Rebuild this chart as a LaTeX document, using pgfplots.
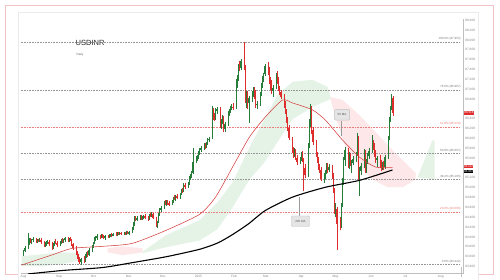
\documentclass[border=0pt]{standalone}
\usepackage{fontspec}
\setmainfont{Liberation Sans}
\usepackage{pgfplots}
\pgfplotsset{compat=1.18}
\usepackage{pgfplotstable}
\definecolor{upc}{RGB}{38,125,58}
\definecolor{dnc}{RGB}{222,45,45}
\definecolor{ma50}{RGB}{214,64,64}
\definecolor{cloudG}{RGB}{229,243,231}
\definecolor{cloudR}{RGB}{253,231,232}
\definecolor{framepink}{RGB}{242,196,200}
\definecolor{fibgray}{RGB}{150,150,150}
\definecolor{fibred}{RGB}{235,125,125}
\definecolor{lblgray}{RGB}{135,135,135}
\tikzset{
  fib/.style={dash pattern=on 0.5pt off 1.1pt, line width=0.4pt, fibgray},
  fibr/.style={dash pattern=on 0.5pt off 1.1pt, line width=0.4pt, fibred},
  fibl/.style={anchor=south east, inner sep=0.4pt, font=\fontsize{3}{3.4}\selectfont, text=fibgray!80!black},
  fiblr/.style={anchor=south east, inner sep=0.4pt, font=\fontsize{3}{3.4}\selectfont, text=fibred},
}
\pgfplotsset{candle/.style={draw=none, mark=none, forget plot}}

\pgfplotstableread{
d o h l c
0 83.66 83.74 83.62 83.72
1 83.72 83.82 83.70 83.78
4 83.78 84.08 83.76 83.90
5 83.90 83.98 83.84 83.94
6 83.94 83.98 83.88 83.92
7 83.92 83.97 83.86 83.95
8 83.95 83.99 83.90 83.96
11 83.96 83.99 83.88 83.90
12 83.90 83.96 83.87 83.94
13 83.94 83.97 83.90 83.93
14 83.93 83.98 83.89 83.95
15 83.95 83.98 83.86 83.89
18 83.89 83.92 83.80 83.84
19 83.84 83.90 83.80 83.86
20 83.86 83.92 83.82 83.88
21 83.88 83.94 83.85 83.90
22 83.90 83.93 83.82 83.85
25 83.85 83.90 83.74 83.78
26 83.78 83.88 83.75 83.86
27 83.86 83.92 83.82 83.90
28 83.90 83.95 83.86 83.88
29 83.88 83.92 83.80 83.84
32 83.84 83.92 83.82 83.90
33 83.90 83.96 83.86 83.94
34 83.94 83.97 83.88 83.92
35 83.92 83.96 83.87 83.95
36 83.95 83.99 83.90 83.97
39 83.97 84.00 83.90 83.93
40 83.93 83.98 83.90 83.96
41 83.96 83.99 83.91 83.94
42 83.94 83.97 83.82 83.86
43 83.86 83.88 83.74 83.78
46 83.78 83.82 83.64 83.68
47 83.68 83.72 83.56 83.60
48 83.60 83.66 83.50 83.54
49 83.54 83.60 83.45 83.50
50 83.50 83.58 83.44 83.55
53 83.55 83.62 83.48 83.52
54 83.52 83.66 83.50 83.62
55 83.62 83.70 83.58 83.66
56 83.66 83.72 83.60 83.64
57 83.64 83.78 83.62 83.74
60 83.74 83.84 83.70 83.80
61 83.80 83.90 83.78 83.88
62 83.88 84.00 83.86 83.96
63 83.96 84.02 83.92 83.98
64 83.98 84.06 83.94 84.02
67 84.02 84.05 83.96 84.00
68 84.00 84.06 83.97 84.04
69 84.04 84.07 83.98 84.01
70 84.01 84.05 83.96 83.99
71 83.99 84.04 83.95 84.02
74 84.02 84.05 83.98 84.00
75 84.00 84.06 83.97 84.03
76 84.03 84.07 84.00 84.05
77 84.05 84.08 84.00 84.04
78 84.04 84.09 84.01 84.06
81 84.06 84.10 84.02 84.05
82 84.05 84.10 84.03 84.08
83 84.08 84.11 84.04 84.07
84 84.07 84.10 84.04 84.08
85 84.08 84.11 84.05 84.07
88 84.07 84.10 84.04 84.08
89 84.08 84.11 84.05 84.07
90 84.07 84.12 84.05 84.09
91 84.09 84.12 84.06 84.08
92 84.08 84.12 84.05 84.10
95 84.10 84.20 84.08 84.18
96 84.18 84.30 84.14 84.26
97 84.26 84.42 84.22 84.38
98 84.38 84.42 84.32 84.36
99 84.36 84.42 84.33 84.39
102 84.39 84.44 84.35 84.40
103 84.40 84.44 84.34 84.37
104 84.37 84.42 84.35 84.40
105 84.40 84.45 84.36 84.42
106 84.42 84.46 84.36 84.38
109 84.38 84.42 84.33 84.36
110 84.36 84.46 84.34 84.44
111 84.44 84.48 84.40 84.43
112 84.43 84.50 84.40 84.46
113 84.46 84.48 84.36 84.38
116 84.38 84.40 84.20 84.24
117 84.24 84.32 84.18 84.30
118 84.30 84.48 84.28 84.45
119 84.45 84.58 84.42 84.55
120 84.55 84.62 84.50 84.58
123 84.58 84.74 84.56 84.70
124 84.70 84.76 84.64 84.68
125 84.68 84.75 84.62 84.72
126 84.72 84.76 84.66 84.70
127 84.70 84.74 84.62 84.66
130 84.66 84.76 84.64 84.74
131 84.74 84.82 84.70 84.80
132 84.80 84.86 84.76 84.78
133 84.78 84.86 84.74 84.84
134 84.84 84.88 84.78 84.80
137 84.80 84.90 84.78 84.88
138 84.88 84.98 84.86 84.95
139 84.95 85.00 84.90 84.94
140 84.94 85.10 84.92 85.06
141 85.06 85.10 84.98 85.02
144 85.02 85.12 85.00 85.10
145 85.10 85.24 85.06 85.20
146 85.20 85.28 85.16 85.24
147 85.24 85.34 85.20 85.30
148 85.30 85.80 85.28 85.52
151 85.52 85.64 85.50 85.60
152 85.60 85.66 85.54 85.62
153 85.62 85.74 85.58 85.70
154 85.70 85.80 85.66 85.76
155 85.76 85.84 85.72 85.80
158 85.80 85.90 85.76 85.84
159 85.84 85.90 85.78 85.82
160 85.82 85.92 85.80 85.88
161 85.88 86.00 85.86 85.96
162 85.96 86.04 85.92 86.00
165 86.00 86.66 85.98 86.58
166 86.58 86.62 86.38 86.44
167 86.44 86.52 86.36 86.40
168 86.40 86.62 86.38 86.56
169 86.56 86.64 86.50 86.60
172 86.60 86.64 86.22 86.26
173 86.26 86.40 86.20 86.34
174 86.34 86.48 86.30 86.42
175 86.42 86.46 86.14 86.20
176 86.20 86.34 86.14 86.30
179 86.30 86.56 86.26 86.50
180 86.50 86.60 86.46 86.56
181 86.56 86.66 86.52 86.62
182 86.62 86.70 86.58 86.64
183 86.64 86.72 86.58 86.62
186 86.62 87.20 86.60 87.10
187 87.10 87.28 87.02 87.20
188 87.20 87.52 87.16 87.48
189 87.48 87.58 87.36 87.44
190 87.44 87.62 87.40 87.58
193 87.58 87.95 87.40 87.45
194 87.45 87.50 86.72 86.84
195 86.84 86.96 86.62 86.88
196 86.88 86.96 86.60 86.72
197 86.72 86.86 86.32 86.82
200 86.82 86.96 86.74 86.88
201 86.88 87.04 86.84 87.00
202 87.00 87.04 86.80 86.86
203 86.86 86.98 86.62 86.68
204 86.68 86.76 86.60 86.70
207 86.70 86.94 86.66 86.90
208 86.90 87.12 86.86 87.08
209 87.08 87.26 87.02 87.20
210 87.20 87.32 87.14 87.30
211 87.30 87.52 87.26 87.48
214 87.48 87.55 87.28 87.36
215 87.36 87.46 87.10 87.18
216 87.18 87.24 86.98 87.04
217 87.04 87.18 86.90 86.96
218 86.96 87.08 86.84 87.02
221 87.02 87.32 87.00 87.28
222 87.28 87.36 87.10 87.16
223 87.16 87.24 86.96 87.00
224 87.00 87.06 86.88 86.94
225 86.94 86.98 86.80 86.84
228 86.84 86.90 86.62 86.70
229 86.70 86.76 86.50 86.56
230 86.56 86.60 86.32 86.38
231 86.38 86.44 86.16 86.22
232 86.22 86.28 85.96 86.00
235 86.00 86.04 85.70 85.76
236 85.76 85.82 85.60 85.68
237 85.68 85.80 85.62 85.74
238 85.74 85.78 85.56 85.60
239 85.60 85.66 85.46 85.52
242 85.52 85.62 85.48 85.58
243 85.58 85.72 85.54 85.68
244 85.68 85.74 85.52 85.56
245 85.56 85.60 84.93 85.40
246 85.40 85.48 85.20 85.26
249 85.26 85.90 85.22 85.84
250 85.84 86.40 85.80 86.30
251 86.30 86.70 86.24 86.62
252 86.62 86.66 86.10 86.18
253 86.18 86.24 85.86 85.92
256 85.92 85.96 85.62 85.68
257 85.68 85.72 85.50 85.56
258 85.56 85.62 85.36 85.42
259 85.42 85.48 85.30 85.36
260 85.36 85.42 85.14 85.18
263 85.18 85.30 85.10 85.22
264 85.22 85.36 85.18 85.32
265 85.32 85.50 85.28 85.46
266 85.46 85.50 85.30 85.36
267 85.36 85.48 85.32 85.42
270 85.42 85.46 85.18 85.24
271 85.24 85.30 84.90 84.96
272 84.96 85.00 84.46 84.52
273 84.52 84.70 84.40 84.56
274 84.56 84.60 83.74 84.26
277 84.26 84.40 84.14 84.22
278 84.22 84.70 84.18 84.64
279 84.64 85.20 84.60 85.10
280 85.10 85.62 85.06 85.56
281 85.56 85.82 85.44 85.76
284 85.76 85.80 85.40 85.46
285 85.46 85.72 85.38 85.66
286 85.66 85.70 85.44 85.48
287 85.48 85.56 85.30 85.50
288 85.50 85.64 85.46 85.58
291 85.58 85.72 85.52 85.68
292 85.68 86.12 85.64 86.00
293 86.00 86.06 85.14 85.20
294 85.20 85.42 84.84 85.34
295 85.34 85.50 85.26 85.44
298 85.44 85.78 85.40 85.72
299 85.72 85.76 85.30 85.36
300 85.36 85.58 85.30 85.52
301 85.52 85.70 85.48 85.64
302 85.64 85.80 85.58 85.74
305 85.74 86.08 85.70 85.92
306 85.92 85.96 85.76 85.82
307 85.82 85.90 85.62 85.68
308 85.68 85.76 85.50 85.56
309 85.56 85.64 85.42 85.60
312 85.60 85.66 85.40 85.46
313 85.46 85.56 85.34 85.40
314 85.40 85.52 85.36 85.48
315 85.48 85.54 85.36 85.42
316 85.42 85.66 85.38 85.62
319 85.62 86.04 85.58 86.00
320 86.00 86.44 85.96 86.40
321 86.40 86.66 86.34 86.62
322 86.62 86.90 86.58 86.82
323 86.82 86.86 86.46 86.52
}\candles

\begin{document}
\begin{tikzpicture}[x=1pt,y=1pt]
\useasboundingbox (0,0) rectangle (500,280);
\fill[white] (0,0) rectangle (500,280);
\draw[framepink, line width=0.9pt] (5.5,6) rectangle (493,275);
\fill[white] (18,0) rectangle (478,268);
\draw[black!8, line width=0.4pt] (18,0) -- (18,268) -- (478,268) -- (478,0);
\draw[black!25, line width=0.4pt] (461,13.3) -- (461,3);
\node[anchor=west, inner sep=0pt, text=black!85, font=\fontsize{7.5}{8}\selectfont] at (75.5,237.5) {USDINR};
\node[anchor=west, inner sep=0pt, text=black!60, font=\fontsize{3}{3.5}\selectfont] at (76.5,225.5) {Daily};
\begin{axis}[
  at={(18,13.3)}, anchor=south west, scale only axis,
  width=443pt, height=254.7pt,
  xmin=-2.6, xmax=385, ymin=83.26, ymax=88.43,
  axis x line*=bottom, axis y line*=right,
  axis line style={draw=black!25, line width=0.4pt},
  clip mode=individual,
  major tick length=0pt,
  /pgf/number format/assume math mode=true,
  xtick={0,31,61,92,122,153,184,212,243,273,304,334,365},
  xticklabels={Aug,Sep,Oct,Nov,Dec,2025,Feb,Mar,Apr,May,Jun,Jul,Aug},
  ytick={83.4,83.6,83.8,84.0,84.2,84.4,84.6,84.8,85.0,85.2,85.6,85.8,86.0,86.2,86.4,86.8,87.0,87.2,87.4,87.6,87.8,88.0,88.2,88.4},
  yticklabel style={/pgf/number format/fixed, /pgf/number format/fixed zerofill, /pgf/number format/precision=3},
  tick label style={font=\fontsize{3.2}{3.6}\selectfont, text=lblgray, inner sep=1pt},
  xticklabel style={yshift=-1pt},
  yticklabel style={xshift=0.5pt},
]
% Ichimoku cloud
\addplot[fill=cloudG, draw=none, forget plot] coordinates {(-1.7,83.61) (16.6,83.65) (34.1,83.69) (49,83.67) (49,83.53) (34.1,83.45) (16.6,83.41) (-1.7,83.41)} -- cycle;
\addplot[fill=cloudR, draw=none, forget plot] coordinates {(73.5,83.77) (86.6,83.81) (104.1,83.77) (104.1,83.69) (86.6,83.63) (73.5,83.69)} -- cycle;
\addplot[fill=cloudG, draw=none, forget plot] coordinates {(104.1,83.70) (124.2,84.03) (154,84.34) (169.7,84.70) (182.9,85.11) (197.7,85.82) (210.9,86.39) (222.2,86.88) (235.4,87.15) (252.8,87.19) (265.9,87.05) (268.6,86.84) (268.6,86.80) (252.8,86.64) (235.4,86.39) (222.2,85.93) (210.9,85.52) (197.7,85.17) (182.9,84.60) (169.7,84.16) (154,83.93) (124.2,83.79) (104.1,83.67)} -- cycle;
\addplot[fill=cloudR, draw=none, forget plot] coordinates {(268.6,86.84) (279.1,86.78) (294,86.47) (308,86.13) (322.8,85.76) (333.3,85.52) (343,85.30) (343,85.17) (331.6,85.01) (318.5,85.01) (305.3,85.17) (294,85.42) (281.7,85.83) (272.9,86.44) (268.6,86.80)} -- cycle;
\addplot[fill=cloudG, draw=none, forget plot] coordinates {(344.7,85.21) (357.8,85.97) (359.6,85.95) (359.6,85.17)} -- cycle;
% Fibonacci levels
\addplot[fib] coordinates {(-2.6,87.952) (382,87.952)};
\addplot[fib] coordinates {(-2.6,86.987) (382,86.987)};
\addplot[fibr] coordinates {(-2.6,86.229) (382,86.229)};
\addplot[fib] coordinates {(-2.6,85.697) (382,85.697)};
\addplot[fib] coordinates {(-2.6,85.165) (382,85.165)};
\addplot[fibr] coordinates {(-2.6,84.506) (382,84.506)};
\addplot[fib] coordinates {(-2.6,83.442) (382,83.442)};
\node[fibl] at (axis cs:383,87.975) {100.0\% (87.952)};
\node[fibl] at (axis cs:383,87.010) {78.6\% (86.987)};
\node[fiblr] at (axis cs:383,86.252) {61.8\% (86.229)};
\node[fibl] at (axis cs:383,85.720) {50.0\% (85.697)};
\node[fibl] at (axis cs:383,85.188) {38.2\% (85.165)};
\node[fiblr] at (axis cs:383,84.529) {23.6\% (84.506)};
\node[fibl] at (axis cs:383,83.465) {0.0\% (83.442)};
% Candles: wicks
\addplot[candle,
  restrict expr to domain={\thisrow{c}-\thisrow{o}}{0:10},
  error bars/.cd, y dir=both, y explicit, error mark=none,
  error bar style={draw=upc, line width=0.35pt}]
  table[x=d, y expr={(\thisrow{h}+\thisrow{l})/2}, y error expr={(\thisrow{h}-\thisrow{l})/2}] {\candles};
\addplot[candle,
  restrict expr to domain={\thisrow{c}-\thisrow{o}}{-10:-0.0001},
  error bars/.cd, y dir=both, y explicit, error mark=none,
  error bar style={draw=dnc, line width=0.35pt}]
  table[x=d, y expr={(\thisrow{h}+\thisrow{l})/2}, y error expr={(\thisrow{h}-\thisrow{l})/2}] {\candles};
% Candles: bodies
\addplot[candle,
  restrict expr to domain={\thisrow{c}-\thisrow{o}}{0:10},
  error bars/.cd, y dir=both, y explicit, error mark=none,
  error bar style={draw=upc, line width=1.15pt}]
  table[x=d, y expr={(\thisrow{o}+\thisrow{c})/2}, y error expr={max(abs(\thisrow{c}-\thisrow{o})/2,0.008)}] {\candles};
\addplot[candle,
  restrict expr to domain={\thisrow{c}-\thisrow{o}}{-10:-0.0001},
  error bars/.cd, y dir=both, y explicit, error mark=none,
  error bar style={draw=dnc, line width=1.15pt}]
  table[x=d, y expr={(\thisrow{o}+\thisrow{c})/2}, y error expr={max(abs(\thisrow{c}-\thisrow{o})/2,0.008)}] {\candles};
% 200 MA
\addplot[black, line width=1.1pt, smooth, tension=0.4] coordinates {(4,83.25) (34,83.32) (69.1,83.38) (95.4,83.48) (125,83.60) (154,83.75) (170,83.88) (182.9,84.05) (197,84.27) (211.7,84.54) (235.4,84.81) (264.2,85.01) (294,85.15) (322.8,85.36)};
% 50 MA
\addplot[ma50, line width=0.55pt, smooth, tension=0.4] coordinates {(-1.7,83.43) (25.4,83.64) (42.9,83.77) (69.1,83.81) (95,83.87) (124.2,84.13) (154,84.46) (168,84.81) (182.9,85.42) (197.7,86.03) (211.7,86.44) (226.6,86.78) (235.4,86.72) (252.8,86.58) (264.2,86.37) (279,85.97) (294,85.62) (308,85.42) (322.8,85.41)};
% callouts
\addplot[black!40, line width=0.3pt] coordinates {(277.6,86.36) (277.6,86.05)};
\node[draw=black!25, fill=black!10, rounded corners=1pt, inner sep=0pt, minimum width=15pt, minimum height=10.5pt, font=\fontsize{3}{3.5}\selectfont, text=black!65] at (axis cs:278.7,86.48) {50 MA};
\addplot[black!40, line width=0.3pt] coordinates {(241.2,84.82) (241.2,84.43)};
\node[draw=black!25, fill=black!10, rounded corners=1pt, inner sep=0pt, minimum width=18pt, minimum height=10.5pt, font=\fontsize{3}{3.5}\selectfont, text=black!65] at (axis cs:242.3,84.32) {200 MA};
% price labels on the scale
\node[anchor=west, fill=dnc, text=white, inner sep=0.6pt, font=\fontsize{3}{3.4}\selectfont] at (axis cs:385,86.52) {86.518};
\node[anchor=south west, fill=dnc, text=white, inner sep=0.5pt, font=\fontsize{2.8}{3.2}\selectfont] at (axis cs:385,85.392) {85.412};
\node[anchor=north west, fill=black, text=white, inner sep=0.5pt, font=\fontsize{2.8}{3.2}\selectfont] at (axis cs:385,85.372) {85.362};
\end{axis}
\end{tikzpicture}
\end{document}
